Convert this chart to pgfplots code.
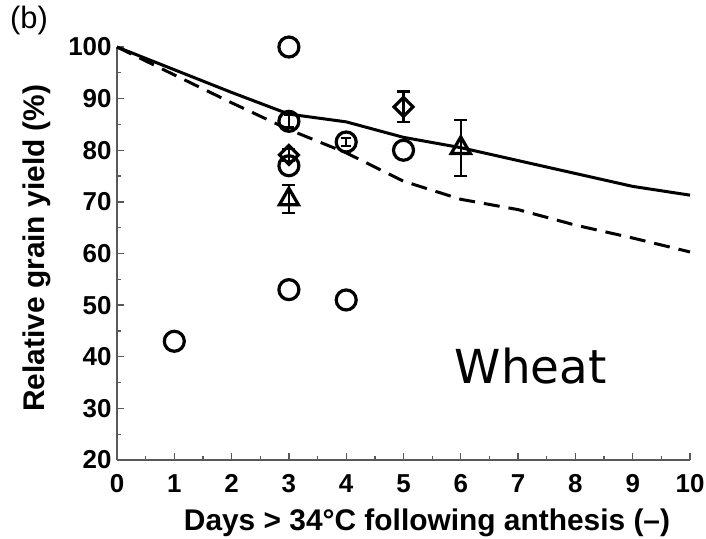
\documentclass[border=0pt]{standalone}
\usepackage{fontspec}
\setmainfont{Liberation Sans}
\newfontfamily\wheatfont{DejaVu Sans}
\usepackage{pgfplots}
\pgfplotsset{compat=1.18}
\begin{document}
\begin{tikzpicture}
\useasboundingbox (-117bp,-79bp) rectangle (589bp,460bp);
\begin{axis}[
  scale only axis, width=573bp, height=413bp,
  at={(0,0)}, anchor=south west,
  xmin=0, xmax=10, ymin=20, ymax=100,
  axis x line*=bottom, axis y line*=left,
  xtick={0,1,...,10}, ytick={20,30,...,100},
  minor x tick num=1, minor y tick num=1,
  tick align=inside,
  major tick length=7bp, minor tick length=4bp,
  tick style={black!65, line width=1.3bp},
  axis line style={-, black!65, line width=1.6bp},
  ticklabel style={font=\fontsize{26}{30}\selectfont\bfseries},
  /pgf/number format/assume math mode=true,
  yticklabel style={xshift=-2bp},
  xticklabel style={yshift=-11bp},
  label style={font=\fontsize{30}{35}\selectfont\bfseries},
  xlabel={Days > 34°C following anthesis (–)},
  ylabel={Relative grain yield (\%)},
  xlabel style={at={(axis description cs:0.541,0)}, anchor=base, yshift=-70bp},
  ylabel style={at={(axis description cs:-0.1257,0.513)}, anchor=base},
  clip=false,
  every axis plot/.append style={black},
]
% model curves
\addplot[black, line width=3bp] coordinates {
  (0,100) (1,95.6) (2,91.2) (3,87) (4,85.5) (5,82.5) (6,80.5) (7,78) (8,75.5) (9,73) (10,71.3)};
\addplot[black, line width=3bp, dash pattern=on 16bp off 9bp] coordinates {
  (0,100) (1,94.6) (2,89.2) (3,84) (4,79.5) (5,74) (6,70.5) (7,68.5) (8,65.5) (9,63) (10,60.3)};
% circles without error bars
\addplot[only marks, mark=o, mark size=10bp, mark options={line width=3.2bp}] coordinates {
  (1,43) (3,100) (3,77) (3,53) (4,51) (5,80)};
% circles with error bars
\addplot[only marks, mark=o, mark size=10bp, mark options={line width=3.2bp},
  error bars/.cd, y dir=both, y explicit,
  error bar style={line width=2.2bp},
  error mark options={rotate=90, line width=2.2bp, mark size=5bp}] coordinates {
  (3,85.6) +- (0,1.2)
  (4,81.6) +- (0,0.8)};
% diamonds
\addplot[only marks, mark=square, mark size=6.7bp, mark options={rotate=45, line width=3.2bp},
  error bars/.cd, y dir=both, y explicit,
  error bar style={line width=2.2bp},
  error mark options={rotate=90, line width=2.2bp, mark size=6.5bp}] coordinates {
  (3,79.1) +- (0,1.2)
  (5,88.4) +- (0,3.0)};
% triangles
\addplot[only marks, mark=triangle, mark size=11bp, mark options={line width=3.2bp},
  error bars/.cd, y dir=both, y explicit,
  error bar style={line width=2.2bp},
  error mark options={rotate=90, line width=2.2bp, mark size=6.5bp}] coordinates {
  (3,70.5) +- (0,2.7)
  (6,80.45) +- (0,5.45)};
\node[font=\wheatfont\fontsize{47}{50}\selectfont, anchor=base] at (axis cs:7.22,34.9) {Wheat};
\node[font=\fontsize{31}{34}\selectfont, anchor=west, inner sep=0pt] at (axis description cs:-0.1867,1.065) {(b)};
\end{axis}
\end{tikzpicture}
\end{document}
